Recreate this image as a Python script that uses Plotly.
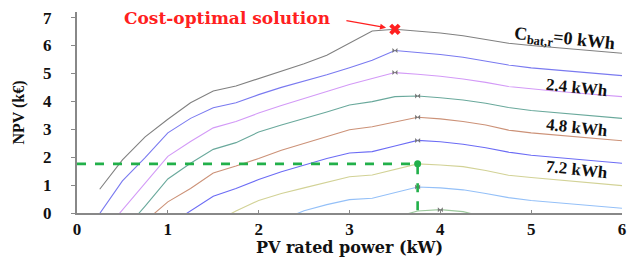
import plotly.graph_objects as go

pv_power = [0.25, 0.5, 0.75, 1.0, 1.25, 1.5, 1.75, 2.0, 2.25, 2.5, 2.75, 3.0,
            3.25, 3.5, 3.75, 4.0, 4.25, 4.5, 4.75, 5.0, 5.25, 5.5, 5.75, 6.0]

npv_0_0 = [0.85, 1.9, 2.73, 3.36, 3.95, 4.37, 4.55, 4.82, 5.08, 5.35, 5.65, 6.1,
           6.52, 6.58, 6.52, 6.45, 6.35, 6.22, 6.08, 6.0, 5.93, 5.86, 5.79, 5.72]
npv_1_2 = [-0.02, 1.15, 1.98, 2.87, 3.39, 3.77, 3.95, 4.24, 4.5, 4.72, 4.95, 5.2,
           5.47, 5.82, 5.75, 5.68, 5.58, 5.45, 5.3, 5.2, 5.13, 5.06, 4.99, 4.92]
npv_2_4 = [-0.85, 0.12, 1.08, 2.03, 2.56, 3.05, 3.28, 3.58, 3.85, 4.1, 4.35, 4.6,
           4.82, 5.03, 4.97, 4.9, 4.8, 4.68, 4.53, 4.44, 4.37, 4.3, 4.23, 4.17]
npv_3_6 = [-1.6, -0.7, 0.25, 1.22, 1.78, 2.28, 2.52, 2.9, 3.15, 3.38, 3.62, 3.87,
           3.99, 4.17, 4.19, 4.13, 4.05, 3.93, 3.78, 3.67, 3.6, 3.53, 3.46, 3.39]
npv_4_8 = [-2.0, -1.2, -0.3, 0.4, 0.88, 1.43, 1.68, 1.95, 2.25, 2.5, 2.75, 2.98,
           3.09, 3.27, 3.43, 3.37, 3.28, 3.15, 2.97, 2.87, 2.8, 2.73, 2.66, 2.59]
npv_6_0 = [None, None, None, -0.45, 0.08, 0.6, 0.88, 1.2, 1.48, 1.72, 1.95, 2.15,
           2.2, 2.4, 2.6, 2.55, 2.46, 2.34, 2.18, 2.07, 2.0, 1.92, 1.85, 1.78]
npv_7_2 = [None, None, None, None, None, -0.35, 0.07, 0.45, 0.7, 0.9, 1.1, 1.3,
           1.36, 1.56, 1.76, 1.72, 1.66, 1.52, 1.35, 1.27, 1.2, 1.12, 1.05, 0.98]
npv_8_4 = [None, None, None, None, None, None, None, None, -0.25, 0.08, 0.3, 0.48,
           0.53, 0.73, 0.93, 0.9, 0.83, 0.7, 0.55, 0.45, 0.38, 0.31, 0.24, 0.17]
npv_9_6 = [None, None, None, None, None, None, None, None, None, None, None, None,
           None, -0.15, 0.07, 0.12, 0.05, -0.15, None, None, None, None, None, None]

series = [
    (npv_0_0, "#808080"),
    (npv_1_2, "#7a7af0"),
    (npv_2_4, "#d39af7"),
    (npv_3_6, "#6aa99c"),
    (npv_4_8, "#cc9278"),
    (npv_6_0, "#6c6cf5"),
    (npv_7_2, "#d2d296"),
    (npv_8_4, "#94c0f8"),
    (npv_9_6, "#9cc89c"),
]

label_texts = ["C<sub>bat,r</sub>=0 kWh", "2.4 kWh", "4.8 kWh", "7.2 kWh"]
label_x = [5.37, 5.5, 5.5, 5.5]
label_y = [6.2, 4.5, 3.05, 1.55]
label_sizes = [18, 17, 17, 17]

x_ticks = [0, 1, 2, 3, 4, 5, 6]
y_ticks = [0, 1, 2, 3, 4, 5, 6, 7]

font_family = "Liberation Serif"
wide_family = "DejaVu Serif"

fig = go.Figure()


def peak(vals):
    best = None
    for xv, yv in zip(pv_power, vals):
        if yv is not None and (best is None or yv > best[1]):
            best = (xv, yv)
    return best


for vals, col in series:
    fig.add_trace(go.Scatter(x=pv_power, y=vals, mode="lines",
                             line=dict(color=col, width=1.1),
                             connectgaps=False, showlegend=False,
                             hoverinfo="skip"))

# small peak markers
for i, (vals, col) in enumerate(series):
    if i in (0, 6):
        continue
    px, py = peak(vals)
    fig.add_trace(go.Scatter(x=[px], y=[py], mode="markers",
                             marker=dict(symbol="bowtie", size=5, color="#777777"),
                             showlegend=False, hoverinfo="skip", cliponaxis=False))

# dashed green guides to the 7.2 kWh optimum
gx, gy = peak(npv_7_2)
fig.add_trace(go.Scatter(x=[0, gx, gx], y=[gy, gy, 0], mode="lines",
                         line=dict(color="#22b04a", width=2.6, dash="dash"),
                         showlegend=False, hoverinfo="skip"))
fig.add_trace(go.Scatter(x=[gx], y=[gy], mode="markers",
                         marker=dict(symbol="circle", size=7, color="#22b04a"),
                         showlegend=False, hoverinfo="skip"))

# cost-optimal solution
ox, oy = peak(npv_0_0)
fig.add_trace(go.Scatter(x=[ox], y=[oy], mode="markers",
                         marker=dict(symbol="x", size=10, color="#ff2020",
                                     line=dict(width=0)),
                         showlegend=False, hoverinfo="skip", cliponaxis=False))

fig.add_annotation(x=ox, y=oy, xref="x", yref="y", ax=-50, ay=-9,
                   text="", showarrow=True, arrowhead=2, arrowsize=1,
                   arrowwidth=1.2, arrowcolor="#ff2020", standoff=9)
fig.add_annotation(x=ox, y=oy, xref="x", yref="y",
                   text="<b>Cost-optimal solution</b>", showarrow=False,
                   xshift=-168, yshift=11,
                   font=dict(family=wide_family, size=17, color="#ff2020"))

for t, lx, ly, fs in zip(label_texts, label_x, label_y, label_sizes):
    fig.add_annotation(x=lx, y=ly, xref="x", yref="y", text="<b>" + t + "</b>",
                       showarrow=False, textangle=6,
                       font=dict(family=font_family, size=fs, color="#111111"))

fig.update_layout(
    width=629, height=257,
    margin=dict(l=77, r=7, t=12, b=44),
    paper_bgcolor="white", plot_bgcolor="white",
    font=dict(family=font_family, size=15, color="#111111"),
)
fig.update_xaxes(range=[0, 6], tickvals=x_ticks, showgrid=False, zeroline=False,
                 showline=True, linecolor="#888888", linewidth=2,
                 ticks="inside", ticklen=3, tickcolor="#888888", automargin=False,
                 tickfont=dict(family=font_family, size=17, color="#111111",
                               weight="bold"),
                 title=dict(text="<b>PV rated power (kW)</b>", standoff=0,
                            font=dict(family=wide_family, size=16, color="#111111")))
fig.update_yaxes(range=[0, 7.2], tickvals=y_ticks, showgrid=False, zeroline=False,
                 showline=True, linecolor="#888888", linewidth=2,
                 ticks="outside", ticklen=4, tickcolor="#888888", automargin=False,
                 ticklabelstandoff=16,
                 tickfont=dict(family=font_family, size=17, color="#111111",
                               weight="bold"),
                 title=dict(text="<b>NPV (k€)</b>", standoff=14,
                            font=dict(family=font_family, size=16, color="#111111")))

fig.write_html("out.html", config={"displayModeBar": False},
               post_script="document.body.style.margin='0';")
